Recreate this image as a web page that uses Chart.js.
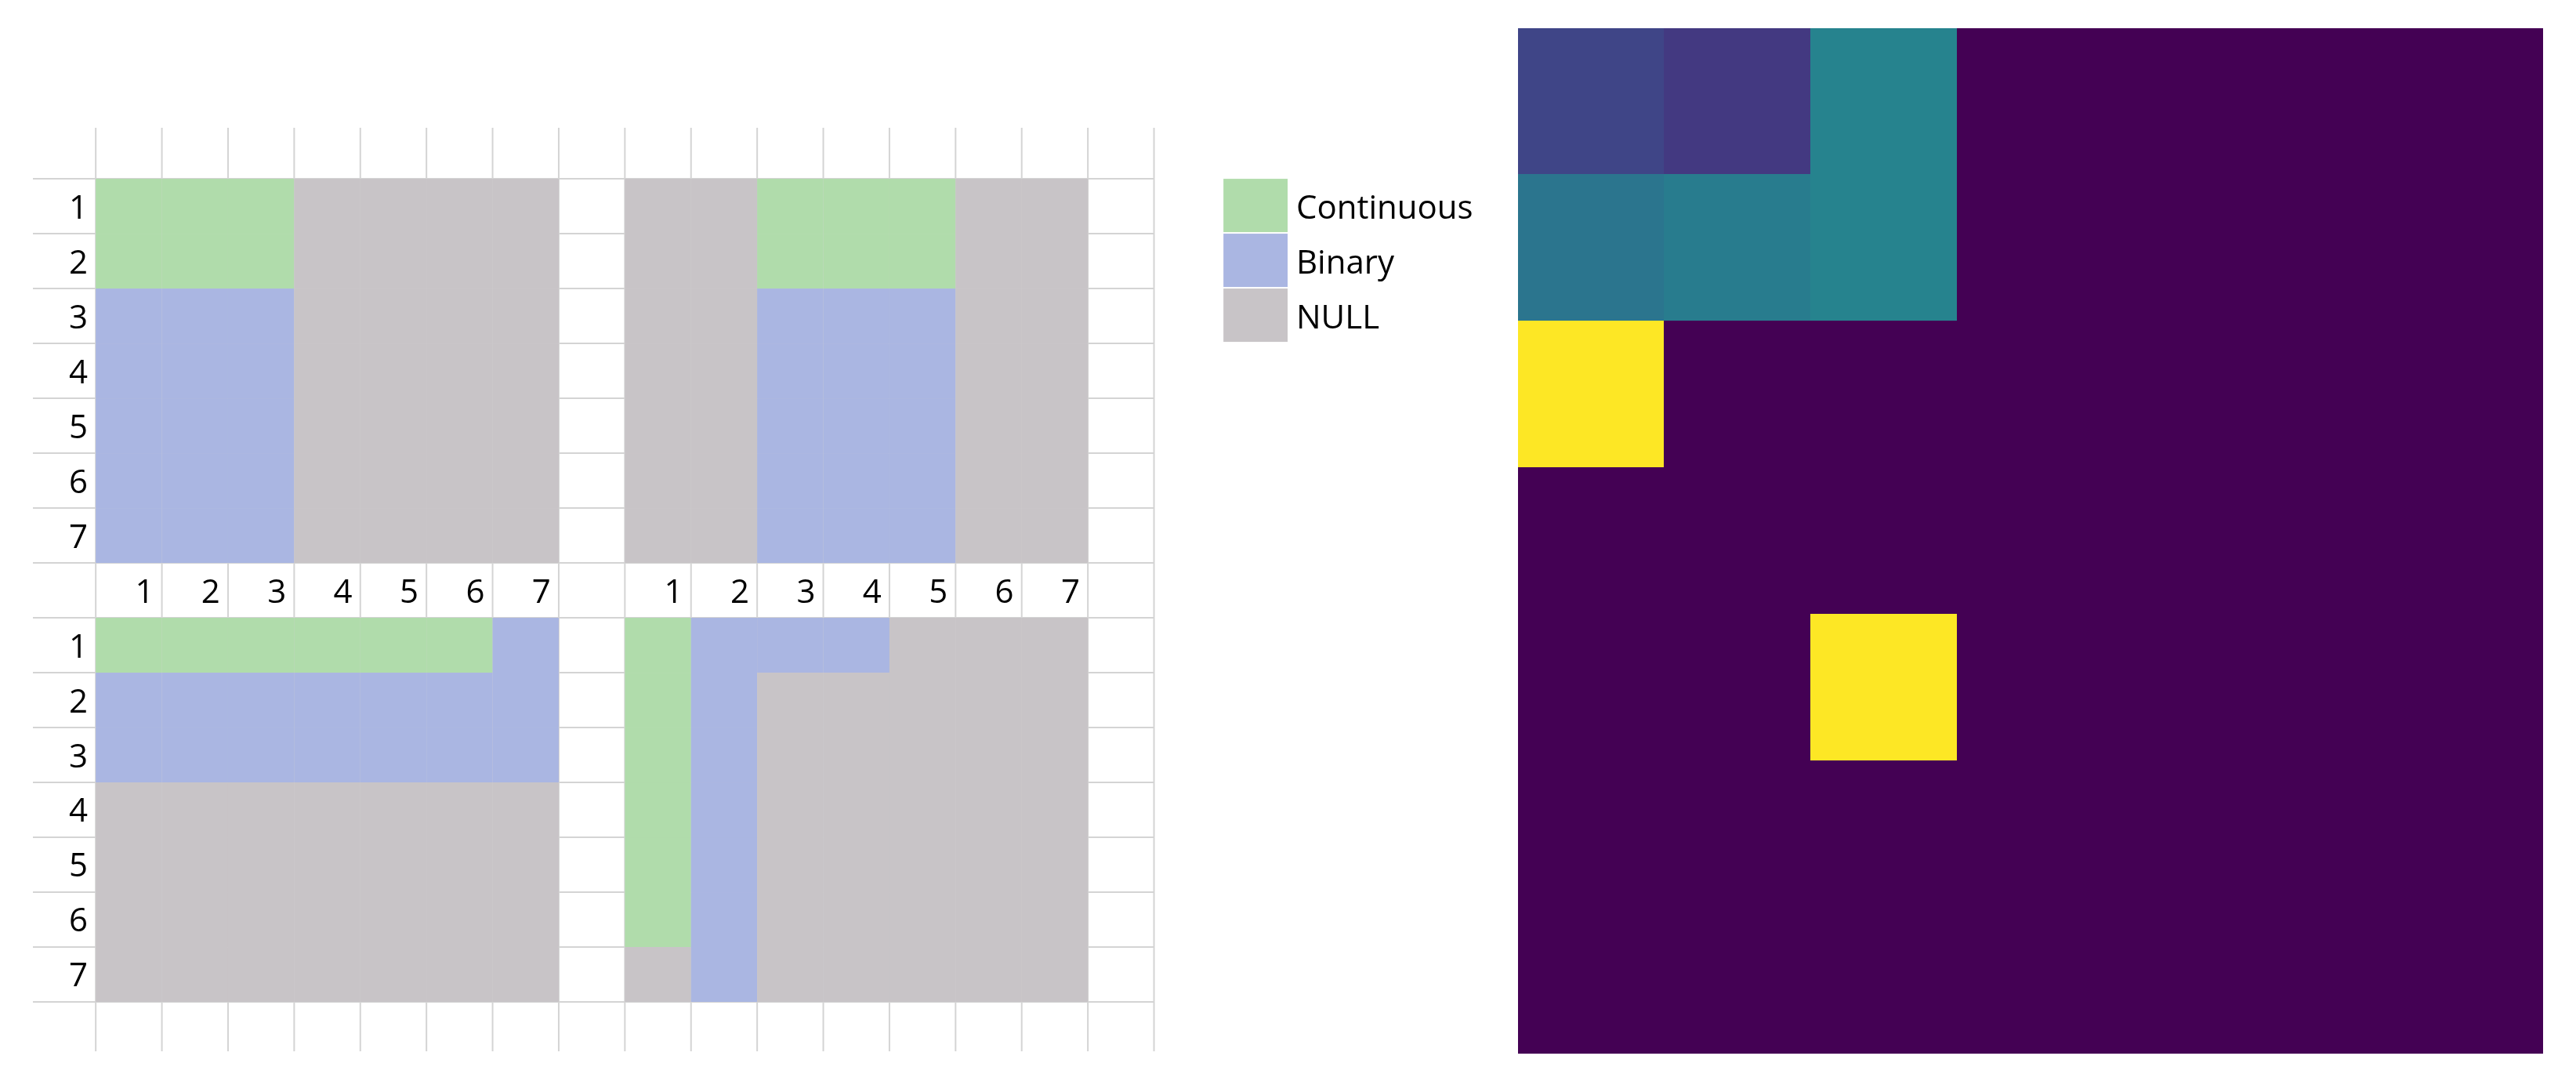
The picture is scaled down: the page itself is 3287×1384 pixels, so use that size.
<!DOCTYPE html>
<html>
<head>
<meta charset="utf-8">
<script src="https://cdn.jsdelivr.net/npm/chart.js@4.4.1/dist/chart.umd.min.js"></script>
<style>
  html, body { margin: 0; background: #fff; width: 3287px; height: 1384px; overflow: hidden; }
  canvas { position: absolute; }
</style>
</head>
<body>
<canvas id="grid" style="left:42px;top:163px" width="1866" height="1178"></canvas>
<canvas id="heat" style="left:1937px;top:36px" width="1308" height="1308"></canvas>
<script>
// C = Continuous, B = Binary, N = NULL
const topLeft = ['CCCNNNN', 'CCCNNNN', 'BBBNNNN', 'BBBNNNN', 'BBBNNNN', 'BBBNNNN', 'BBBNNNN'];
const topRight = ['NNCCCNN', 'NNCCCNN', 'NNBBBNN', 'NNBBBNN', 'NNBBBNN', 'NNBBBNN', 'NNBBBNN'];
const bottomLeft = ['CCCCCCB', 'BBBBBBB', 'BBBBBBB', 'NNNNNNN', 'NNNNNNN', 'NNNNNNN', 'NNNNNNN'];
const bottomRight = ['CBBBNNN', 'CBNNNNN', 'CBNNNNN', 'CBNNNNN', 'CBNNNNN', 'CBNNNNN', 'NBNNNNN'];
const rowLabels = ['1', '2', '3', '4', '5', '6', '7'];
const colLabels = ['1', '2', '3', '4', '5', '6', '7'];
const legendLabels = ['Continuous', 'Binary', 'NULL'];
const legendCodes = ['C', 'B', 'N'];
const colors = { C: '#b0dcab', B: '#aab6e2', N: '#c8c4c7' };

const heatValues = [
  [0.21, 0.17, 0.45, 0, 0, 0, 0],
  [0.39, 0.42, 0.45, 0, 0, 0, 0],
  [1, 0, 0, 0, 0, 0, 0],
  [0, 0, 0, 0, 0, 0, 0],
  [0, 0, 1, 0, 0, 0, 0],
  [0, 0, 0, 0, 0, 0, 0],
  [0, 0, 0, 0, 0, 0, 0]
];

const FONT = '42px "Open Sans", "Liberation Sans", sans-serif';

// sheet drawing: x unit = column, y unit = row
const sheetPlugin = {
  id: 'sheet',
  afterDatasetsDraw(chart) {
    const { ctx, scales: { x, y } } = chart;
    const px = v => x.getPixelForValue(v);
    const py = v => y.getPixelForValue(v);
    ctx.save();
    // grid lines
    ctx.strokeStyle = '#d4d4d4';
    ctx.lineWidth = 2;
    for (let c = 0; c <= 16; c++) {
      ctx.beginPath(); ctx.moveTo(px(c), py(-0.93)); ctx.lineTo(px(c), py(15.9)); ctx.stroke();
    }
    for (let r = 0; r <= 15; r++) {
      ctx.beginPath(); ctx.moveTo(px(-0.95), py(r)); ctx.lineTo(px(16), py(r)); ctx.stroke();
    }
    // blocks
    const blocks = [[topLeft, 0, 0], [topRight, 8, 0], [bottomLeft, 0, 8], [bottomRight, 8, 8]];
    blocks.forEach(([m, c0, r0]) => {
      m.forEach((row, r) => [...row].forEach((code, c) => {
        ctx.fillStyle = colors[code];
        ctx.fillRect(px(c0 + c), py(r0 + r), px(c0 + c + 1) - px(c0 + c), py(r0 + r + 1) - py(r0 + r));
      }));
    });
    // header row background
    ctx.fillStyle = '#fff';
    // labels
    ctx.fillStyle = '#000';
    ctx.font = FONT;
    ctx.textBaseline = 'middle';
    ctx.textAlign = 'right';
    rowLabels.forEach((t, i) => {
      ctx.fillText(t, px(-0.12), py(i + 0.55));
      ctx.fillText(t, px(-0.12), py(i + 8.55));
    });
    colLabels.forEach((t, i) => {
      ctx.fillText(t, px(i + 0.88), py(7.55));
      ctx.fillText(t, px(i + 8.88), py(7.55));
    });
    // legend
    ctx.textAlign = 'left';
    legendLabels.forEach((t, i) => {
      ctx.fillStyle = colors[legendCodes[i]];
      ctx.fillRect(px(17.05), py(i), px(18.02) - px(17.05), py(i + 1) - py(i) - 2);
      ctx.fillStyle = '#000';
      ctx.fillText(t, px(18.15), py(i + 0.55));
    });
    ctx.restore();
  }
};

new Chart(document.getElementById('grid'), {
  type: 'scatter',
  data: { datasets: [{ data: [] }] },
  options: {
    responsive: false,
    devicePixelRatio: 1,
    animation: false,
    layout: { padding: 0 },
    plugins: { legend: { display: false }, tooltip: { enabled: false } },
    scales: {
      x: { type: 'linear', min: -0.95, max: 21.16, display: false },
      y: { type: 'linear', min: -0.93, max: 15.9, reverse: true, display: false }
    }
  },
  plugins: [sheetPlugin]
});

// viridis colour stops
const viridis = ['#440154', '#482878', '#3e4989', '#31688e', '#26828e', '#1f9e89', '#35b779', '#6ece58', '#b5de2b', '#fde725'];
function viridisColor(t) {
  const f = Math.max(0, Math.min(1, t)) * (viridis.length - 1);
  const i = Math.min(Math.floor(f), viridis.length - 2);
  const k = f - i;
  const a = viridis[i], b = viridis[i + 1];
  const ch = (h, o) => parseInt(h.substr(o, 2), 16);
  const mix = o => Math.round(ch(a, o) + (ch(b, o) - ch(a, o)) * k);
  return `rgb(${mix(1)},${mix(3)},${mix(5)})`;
}

const heatPlugin = {
  id: 'heat',
  afterDatasetsDraw(chart) {
    const { ctx, scales: { x, y } } = chart;
    heatValues.forEach((row, r) => row.forEach((v, c) => {
      const x0 = Math.floor(x.getPixelForValue(c)), x1 = Math.ceil(x.getPixelForValue(c + 1));
      const y0 = Math.floor(y.getPixelForValue(r)), y1 = Math.ceil(y.getPixelForValue(r + 1));
      ctx.fillStyle = viridisColor(v);
      ctx.fillRect(x0, y0, x1 - x0, y1 - y0);
    }));
  }
};

new Chart(document.getElementById('heat'), {
  type: 'scatter',
  data: { datasets: [{ data: [] }] },
  options: {
    responsive: false,
    devicePixelRatio: 1,
    animation: false,
    layout: { padding: 0 },
    plugins: { legend: { display: false }, tooltip: { enabled: false } },
    scales: {
      x: { type: 'linear', min: 0, max: 7, display: false },
      y: { type: 'linear', min: 0, max: 7, reverse: true, display: false }
    }
  },
  plugins: [heatPlugin]
});
</script>
</body>
</html>
